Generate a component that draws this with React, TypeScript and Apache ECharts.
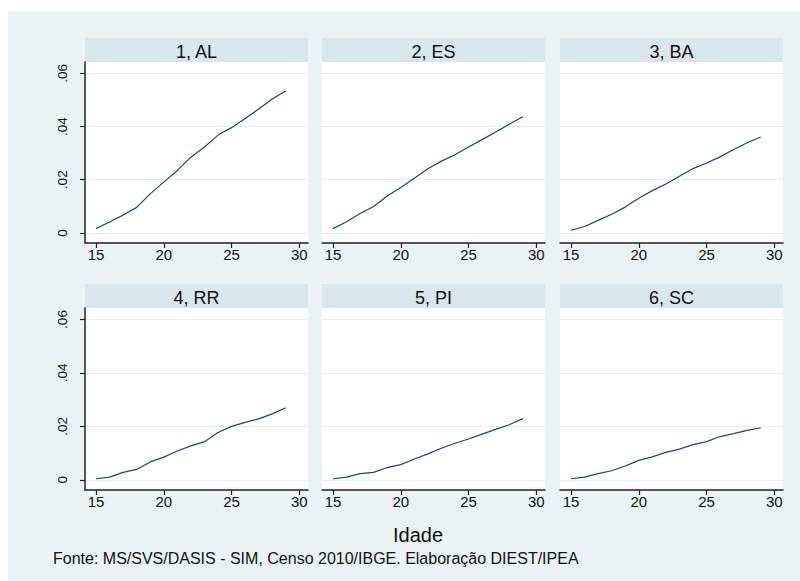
import React, { useEffect, useRef } from "react";
import * as echarts from "echarts";

const ages = [15, 16, 17, 18, 19, 20, 21, 22, 23, 24, 25, 26, 27, 28, 29];
const panelTitles = ["1, AL", "2, ES", "3, BA", "4, RR", "5, PI", "6, SC"];
const AL = [0.0016, 0.0041, 0.0067, 0.0096, 0.0147, 0.0191, 0.0235, 0.0285, 0.0323, 0.0368, 0.0396, 0.043, 0.0466, 0.0504, 0.0534];
const ES = [0.0016, 0.0042, 0.0073, 0.0099, 0.0139, 0.0171, 0.0206, 0.0241, 0.027, 0.0294, 0.0323, 0.0351, 0.038, 0.0409, 0.0437];
const BA = [0.001, 0.0024, 0.0047, 0.007, 0.0097, 0.013, 0.0159, 0.0184, 0.0213, 0.0242, 0.0263, 0.0286, 0.0314, 0.0339, 0.0361];
const RR = [0.0004, 0.001, 0.0028, 0.0039, 0.0067, 0.0085, 0.0108, 0.0127, 0.0143, 0.0177, 0.02, 0.0215, 0.0228, 0.0247, 0.027];
const PI = [0.0004, 0.001, 0.0023, 0.0028, 0.0046, 0.0057, 0.0078, 0.0097, 0.0118, 0.0137, 0.0153, 0.0171, 0.0189, 0.0206, 0.0229];
const SC = [0.0004, 0.001, 0.0023, 0.0034, 0.0052, 0.0073, 0.0086, 0.0103, 0.0115, 0.0132, 0.0143, 0.0162, 0.0173, 0.0185, 0.0195];
const seriesValues = [AL, ES, BA, RR, PI, SC];
const xTicks = [15, 20, 25, 30];
const yTicks = [0, 0.02, 0.04, 0.06];
const xTitle = "Idade";
const sourceNote = "Fonte: MS/SVS/DASIS - SIM, Censo 2010/IBGE. Elaboração DIEST/IPEA";

const FONT = "'Liberation Sans', Arial, sans-serif";
const BG = "#eaf2f3";
const STRIP = "#d9e6eb";
const LINE = "#1a476f";

export default function App() {
  const ref = useRef<HTMLDivElement>(null);
  useEffect(() => {
    if (!ref.current) return;
    const chart = echarts.init(ref.current, undefined, { renderer: "svg" });
    const lefts = [85, 322, 560];
    const tops = [62, 308];
    const heights = [181, 182];
    const W = 223;
    const grids: any[] = [];
    const xAxes: any[] = [];
    const yAxes: any[] = [];
    const series: any[] = [];
    const graphics: any[] = [
      { type: "rect", shape: { x: 8, y: 11, width: 792, height: 570 }, style: { fill: BG }, z: -10 },
    ];
    for (let i = 0; i < 6; i++) {
      const r = Math.floor(i / 3);
      const c = i % 3;
      grids.push({
        left: lefts[c],
        top: tops[r],
        width: W,
        height: heights[r],
        show: true,
        backgroundColor: "#ffffff",
        borderWidth: 0,
      });
      xAxes.push({
        type: "value",
        gridIndex: i,
        min: 14.19,
        max: 30.64,
        axisLine: { show: true, onZero: false, lineStyle: { color: "#222", width: 1.5 } },
        axisTick: { show: true, length: 5, customValues: xTicks, lineStyle: { color: "#222", width: 1.2 } },
        axisLabel: { customValues: xTicks, margin: 4, fontSize: 15, color: "#111", fontFamily: FONT },
        splitLine: { show: false },
      });
      yAxes.push({
        type: "value",
        gridIndex: i,
        min: -0.0038,
        max: 0.0643,
        axisLine: { show: c === 0, onZero: false, lineStyle: { color: "#222", width: 1.5 } },
        axisTick: { show: c === 0, length: 5, customValues: yTicks, lineStyle: { color: "#222", width: 1.2 } },
        axisLabel: {
          show: c === 0,
          customValues: yTicks,
          rotate: 90,
          margin: 16,
          fontSize: 13.5,
          color: "#111",
          fontFamily: FONT,
          formatter: (v: number) => (v === 0 ? "0" : v.toFixed(2).replace(/^0/, "")),
        },
        splitLine: { show: true, lineStyle: { color: "#e6eef1", width: 1 } },
      });
      series.push({
        type: "line",
        xAxisIndex: i,
        yAxisIndex: i,
        data: ages.map((a, k) => [a, seriesValues[i][k]]),
        showSymbol: false,
        lineStyle: { color: LINE, width: 1.2 },
        silent: true,
      });
      const stripTop = r === 0 ? 38 : 284;
      graphics.push({
        type: "rect",
        shape: { x: lefts[c], y: stripTop, width: W, height: 24 },
        style: { fill: STRIP },
      });
      graphics.push({
        type: "text",
        x: lefts[c] + W / 2,
        y: stripTop + 14,
        style: {
          text: panelTitles[i],
          fill: "#111",
          font: `18px ${FONT}`,
          align: "center",
          verticalAlign: "middle",
        },
      });
    }
    graphics.push({
      type: "text",
      x: 418,
      y: 535,
      style: { text: xTitle, fill: "#111", font: `20px ${FONT}`, align: "center", verticalAlign: "middle" },
    });
    graphics.push({
      type: "text",
      x: 53,
      y: 558,
      style: { text: sourceNote, fill: "#111", font: `16px ${FONT}`, align: "left", verticalAlign: "middle" },
    });
    chart.setOption({
      animation: false,
      backgroundColor: "#ffffff",
      grid: grids,
      xAxis: xAxes,
      yAxis: yAxes,
      series,
      graphic: graphics,
    });
    return () => chart.dispose();
  }, []);
  return <div ref={ref} style={{ position: "fixed", left: 0, top: 0, width: 800, height: 581 }} />;
}
